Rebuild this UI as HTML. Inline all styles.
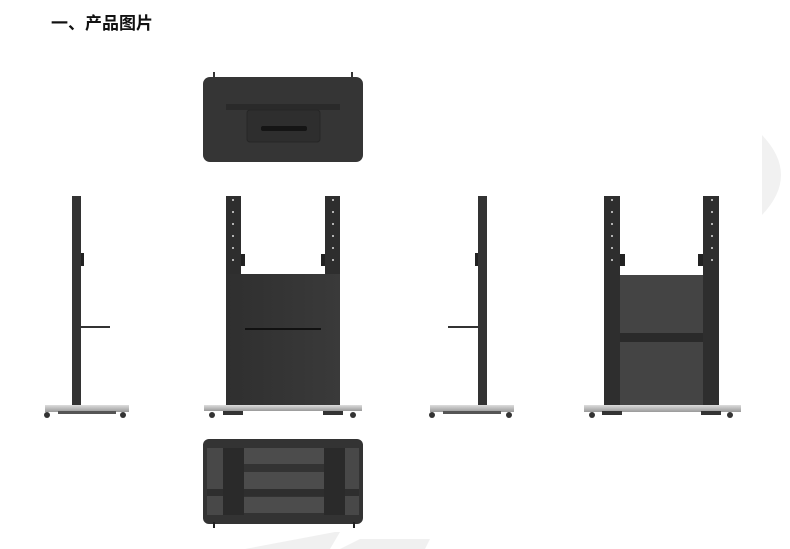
<!DOCTYPE html>
<html><head><meta charset="utf-8"><style>
body{margin:0;width:790px;height:549px;background:#fff;overflow:hidden;position:relative}
h1{position:absolute;left:51px;top:9px;margin:0;font:bold 17px "Liberation Sans","Noto Sans CJK SC",sans-serif;color:#111}
svg{position:absolute;left:0;top:0}
</style></head><body>
<svg width="790" height="549" viewBox="0 0 790 549">
<defs>
<linearGradient id="pan" x1="0" x2="1"><stop offset="0" stop-color="#2f2f2f"/><stop offset="1" stop-color="#3a3a3a"/></linearGradient>
<linearGradient id="base" x1="0" y1="0" x2="0" y2="1"><stop offset="0" stop-color="#ddd"/><stop offset="1" stop-color="#999"/></linearGradient>
</defs>
<!-- decorative -->
<path d="M762 135 Q800 175 762 215 Z" fill="#f1f1f1"/>
<polygon points="245,549 335,532 340,532 330,549" fill="#f0f0f0"/>
<polygon points="340,549 360,539 430,539 425,549" fill="#f0f0f0"/>
<!-- top view -->
<rect x="213" y="72" width="2" height="6" fill="#333"/><rect x="351" y="72" width="2" height="6" fill="#333"/>
<rect x="203" y="77" width="160" height="85" rx="7" fill="#353535"/>
<rect x="226" y="104" width="114" height="6" fill="#2a2a2a"/>
<rect x="247" y="110" width="73" height="32" rx="3" fill="#2e2e2e" stroke="#262626"/>
<rect x="261" y="126" width="46" height="5" rx="2" fill="#151515"/>
<!-- side view 1 -->
<rect x="72" y="196" width="9" height="210" fill="#333"/>
<rect x="81" y="253" width="3" height="13" fill="#222"/>
<rect x="81" y="326" width="29" height="2" fill="#333"/>
<rect x="45" y="405" width="84" height="7" fill="url(#base)"/>
<rect x="58" y="411" width="58" height="3" fill="#555"/>
<circle cx="47" cy="415" r="3" fill="#333"/><circle cx="123" cy="415" r="3" fill="#333"/>
<!-- front view 1 -->
<rect x="226" y="196" width="15" height="210" fill="#2e2e2e"/>
<rect x="325" y="196" width="15" height="210" fill="#2e2e2e"/>
<rect x="226" y="274" width="114" height="132" fill="url(#pan)"/>
<rect x="245" y="328" width="76" height="2" fill="#111"/>
<g fill="#ddd"><circle cx="233" cy="200" r="1"/><circle cx="233" cy="212" r="1"/><circle cx="233" cy="224" r="1"/><circle cx="233" cy="236" r="1"/><circle cx="233" cy="248" r="1"/><circle cx="233" cy="260" r="1"/>
<circle cx="333" cy="200" r="1"/><circle cx="333" cy="212" r="1"/><circle cx="333" cy="224" r="1"/><circle cx="333" cy="236" r="1"/><circle cx="333" cy="248" r="1"/><circle cx="333" cy="260" r="1"/></g>
<rect x="241" y="254" width="4" height="12" fill="#222"/><rect x="321" y="254" width="4" height="12" fill="#222"/>
<rect x="204" y="405" width="158" height="6" fill="url(#base)"/>
<rect x="223" y="411" width="20" height="4" fill="#333"/><rect x="323" y="411" width="20" height="4" fill="#333"/>
<circle cx="212" cy="415" r="3" fill="#333"/><circle cx="353" cy="415" r="3" fill="#333"/>
<!-- side view 2 -->
<rect x="478" y="196" width="9" height="210" fill="#333"/>
<rect x="475" y="253" width="3" height="13" fill="#222"/>
<rect x="448" y="326" width="30" height="2" fill="#333"/>
<rect x="430" y="405" width="84" height="7" fill="url(#base)"/>
<rect x="443" y="411" width="58" height="3" fill="#555"/>
<circle cx="432" cy="415" r="3" fill="#333"/><circle cx="509" cy="415" r="3" fill="#333"/>
<!-- front view 2 -->
<rect x="604" y="196" width="16" height="210" fill="#2e2e2e"/>
<rect x="703" y="196" width="16" height="210" fill="#2e2e2e"/>
<rect x="620" y="275" width="83" height="131" fill="#444"/>
<rect x="620" y="333" width="83" height="9" fill="#2a2a2a"/>
<g fill="#ddd"><circle cx="612" cy="200" r="1"/><circle cx="612" cy="212" r="1"/><circle cx="612" cy="224" r="1"/><circle cx="612" cy="236" r="1"/><circle cx="612" cy="248" r="1"/><circle cx="612" cy="260" r="1"/>
<circle cx="712" cy="200" r="1"/><circle cx="712" cy="212" r="1"/><circle cx="712" cy="224" r="1"/><circle cx="712" cy="236" r="1"/><circle cx="712" cy="248" r="1"/><circle cx="712" cy="260" r="1"/></g>
<rect x="620" y="254" width="5" height="12" fill="#222"/><rect x="698" y="254" width="5" height="12" fill="#222"/>
<rect x="584" y="405" width="157" height="7" fill="url(#base)"/>
<rect x="602" y="411" width="20" height="4" fill="#333"/><rect x="701" y="411" width="20" height="4" fill="#333"/>
<circle cx="592" cy="415" r="3" fill="#333"/><circle cx="730" cy="415" r="3" fill="#333"/>
<!-- bottom view -->
<rect x="203" y="439" width="160" height="85" rx="6" fill="#333"/>
<rect x="207" y="448" width="16" height="67" fill="#484848"/>
<rect x="343" y="448" width="16" height="67" fill="#484848"/>
<rect x="207" y="489" width="152" height="7" fill="#2e2e2e"/>
<rect x="223" y="448" width="21" height="67" fill="#2a2a2a"/>
<rect x="324" y="448" width="21" height="67" fill="#2a2a2a"/>
<rect x="244" y="448" width="80" height="16" fill="#4c4c4c"/>
<rect x="244" y="472" width="80" height="17" fill="#4c4c4c"/>
<rect x="244" y="497" width="80" height="16" fill="#4c4c4c"/>
<rect x="213" y="522" width="2" height="6" fill="#222"/><rect x="353" y="522" width="2" height="6" fill="#222"/>
</svg>
<h1>一、产品图片</h1>
</body></html>
